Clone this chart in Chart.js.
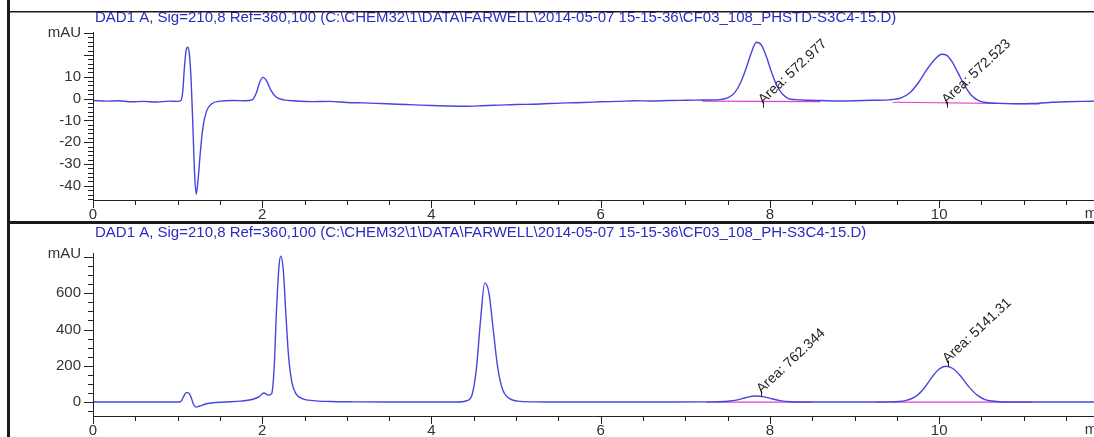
<!DOCTYPE html>
<html>
<head>
<meta charset="utf-8">
<script src="https://cdn.jsdelivr.net/npm/chart.js@4.4.1/dist/chart.umd.min.js"></script>
<style>
  html, body { margin: 0; padding: 0; background: #fff; }
  #wrap { position: relative; width: 1094px; height: 437px; overflow: hidden; }
  #topChart { position: absolute; left: 0; top: 0; }
  #bottomChart { position: absolute; left: 0; top: 221px; }
</style>
</head>
<body>
<div id="wrap">
  <canvas id="topChart" width="1094" height="221"></canvas>
  <canvas id="bottomChart" width="1094" height="216"></canvas>
</div>
<script>
// Standard injection (top) and sample (bottom), DAD1 A signal
const topTitle = 'DAD1 A, Sig=210,8 Ref=360,100 (C:\\CHEM32\\1\\DATA\\FARWELL\\2014-05-07 15-15-36\\CF03_108_PHSTD-S3C4-15.D)';
const bottomTitle = 'DAD1 A, Sig=210,8 Ref=360,100 (C:\\CHEM32\\1\\DATA\\FARWELL\\2014-05-07 15-15-36\\CF03_108_PH-S3C4-15.D)';

const xTickLabels = [0, 2, 4, 6, 8, 10];

// top trace: retention time (min) / absorbance (mAU)
const topTimes = [0, 0.15, 0.3, 0.45, 0.6, 0.75, 0.9, 1.0, 1.04, 1.06, 1.08, 1.1, 1.12, 1.14, 1.16, 1.18, 1.2, 1.22, 1.24, 1.27, 1.3, 1.34, 1.4, 1.5, 1.65, 1.8, 1.88, 1.93, 1.97, 2.01, 2.05, 2.1, 2.16, 2.25, 2.4, 2.6, 2.8, 3.0, 3.2, 3.4, 3.6, 3.8, 4.0, 4.2, 4.4, 4.6, 4.8, 5.0, 5.2, 5.4, 5.6, 5.8, 6.0, 6.2, 6.4, 6.6, 6.8, 7.0, 7.2, 7.4, 7.5, 7.58, 7.65, 7.72, 7.78, 7.84, 7.9, 7.96, 8.02, 8.08, 8.15, 8.22, 8.3, 8.45, 8.6, 8.8, 9.0, 9.2, 9.4, 9.55, 9.65, 9.75, 9.85, 9.95, 10.03, 10.09, 10.15, 10.22, 10.3, 10.38, 10.46, 10.55, 10.7, 10.9, 11.1, 11.3, 11.5, 11.7, 11.83];
const topValues = [-0.9, -1.2, -1.0, -1.5, -1.3, -1.6, -1.2, -1.3, -0.8, 3, 14, 22, 23.5, 20, 8, -12, -34, -43.8, -38, -24, -13, -6, -2.5, -1.2, -0.9, -1.0, -0.6, 2.5, 7.5, 9.7, 8.2, 4, 0.8, -0.6, -1.1, -1.4, -1.3, -1.8, -2.0, -2.3, -2.6, -2.9, -3.2, -3.4, -3.5, -3.3, -3.0, -2.7, -2.6, -2.3, -2.0, -1.8, -1.5, -1.3, -1.0, -1.1, -0.9, -0.8, -0.7, -0.5, 0.3, 2.5, 7, 14, 21, 25.8, 24.5, 19, 12, 6, 2, 0, -0.5, -0.8, -0.9, -1.1, -1.0, -0.8, -0.6, 0.3, 2.5, 7, 13, 18, 20.3, 19.8, 17, 12, 6, 1.5, -0.8, -1.8, -2.2, -2.4, -2.3, -1.8, -1.5, -1.3, -1.2];

// bottom trace
const bottomTimes = [0, 0.5, 1.0, 1.04, 1.07, 1.1, 1.13, 1.16, 1.19, 1.22, 1.26, 1.32, 1.4, 1.55, 1.75, 1.88, 1.96, 2.02, 2.07, 2.11, 2.14, 2.17, 2.2, 2.22, 2.25, 2.28, 2.31, 2.35, 2.4, 2.48, 2.6, 2.8, 3.1, 3.5, 4.0, 4.3, 4.42, 4.48, 4.53, 4.58, 4.63, 4.68, 4.73, 4.78, 4.84, 4.92, 5.02, 5.2, 5.6, 6.2, 6.8, 7.3, 7.5, 7.62, 7.72, 7.82, 7.92, 8.02, 8.12, 8.25, 8.5, 9.0, 9.4, 9.6, 9.72, 9.82, 9.92, 10.0, 10.08, 10.16, 10.25, 10.35, 10.45, 10.55, 10.68, 10.85, 11.2, 11.83];
const bottomValues = [0, 0, 0, 4, 30, 52, 50, 25, -15, -28, -22, -12, -5, 0, 5, 14, 28, 50, 38, 45, 180, 520, 760, 805, 720, 480, 260, 110, 45, 18, 8, 3, 1, 0, 0, 0, 8, 40, 180, 450, 657, 600, 400, 200, 70, 20, 5, 1, 0, 0, 0, 1, 4, 12, 25, 33, 30, 18, 8, 2, 0, 0, 1, 8, 30, 75, 140, 182, 197, 185, 145, 85, 38, 12, 3, 0, 0, 0];

// integration baselines (pink), [start, end] per peak
const topBaseTimes = [[7.2, 8.6], [9.45, 11.19]];
const topBaseValues = [[-1.2, -1.4], [-1.7, -2.4]];
const bottomBaseTimes = [[7.25, 8.5], [9.26, 11.1]];
const bottomBaseValues = [[0, 0], [0, 0]];

// peak area labels, anchored at (time, mAU)
const topAreaTimes = [7.92, 10.09];
const topAreaValues = [-2.8, -2.8];
const topAreaLabels = ['Area: 572.977', 'Area: 572.523'];
const bottomAreaTimes = [7.9, 10.1];
const bottomAreaValues = [45, 212];
const bottomAreaLabels = ['Area: 762.344', 'Area: 5141.31'];

const topYTicks = [10, 0, -10, -20, -30, -40];
const bottomYTicks = [600, 400, 200, 0];

const TRACE = '#4646dc';
const BASE = '#e040d0';
const TITLE = '#2b2bc4';
const INK = '#333';
const FONT = 'Liberation Sans, Arial, sans-serif';

function toPoints(xs, ys) {
  return xs.map((x, i) => ({ x: x, y: ys[i] }));
}

const axisPlugin = {
  id: 'chemAxes',
  afterDraw(chart) {
    const o = chart.options.plugins.chemAxes;
    const ctx = chart.ctx;
    const xs = chart.scales.x;
    const ys = chart.scales.y;
    const area = chart.chartArea;
    ctx.save();
    ctx.strokeStyle = '#222';
    ctx.lineWidth = 1;

    // axis lines
    ctx.beginPath();
    ctx.moveTo(area.left + 0.5, area.top);
    ctx.lineTo(area.left + 0.5, area.bottom);
    ctx.moveTo(area.left, area.bottom + 0.5);
    ctx.lineTo(area.right, area.bottom + 0.5);
    ctx.stroke();

    // y ticks: minor every step, long at labelled values
    ctx.beginPath();
    for (let v = Math.ceil(ys.min / o.yMinor) * o.yMinor; v <= ys.max + 1e-9; v += o.yMinor) {
      const py = Math.round(ys.getPixelForValue(v)) + 0.5;
      const major = Math.abs(v / o.yMajor - Math.round(v / o.yMajor)) < 1e-6;
      ctx.moveTo(area.left, py);
      ctx.lineTo(area.left - (major ? 9 : 5), py);
    }
    // x ticks every half minute
    for (let t = 0; t <= xs.max + 1e-9; t += 0.5) {
      const px = Math.round(xs.getPixelForValue(t)) + 0.5;
      const major = Math.abs(t / 2 - Math.round(t / 2)) < 1e-6;
      ctx.moveTo(px, area.bottom);
      ctx.lineTo(px, area.bottom + (major ? 8 : 5));
    }
    ctx.stroke();

    ctx.fillStyle = INK;
    ctx.font = '15px ' + FONT;
    ctx.textAlign = 'right';
    ctx.textBaseline = 'middle';
    ctx.fillText('mAU', area.left - 12, area.top + 1);
    ctx.textAlign = 'left';
    ctx.textBaseline = 'top';
    ctx.fillText('min', xs.getPixelForValue(11.72), area.bottom + 6);

    // title
    ctx.fillStyle = TITLE;
    ctx.font = '15px ' + FONT;
    ctx.textAlign = 'left';
    ctx.textBaseline = 'middle';
    ctx.fillText(o.title, 95, o.titleY);

    // area labels, rotated
    ctx.fillStyle = '#222';
    ctx.font = '14px ' + FONT;
    ctx.textBaseline = 'alphabetic';
    o.areaTimes.forEach((t, i) => {
      const px = xs.getPixelForValue(t);
      const py = ys.getPixelForValue(o.areaValues[i]);
      ctx.save();
      ctx.translate(px, py);
      ctx.rotate(-43 * Math.PI / 180);
      ctx.fillText(o.areaLabels[i], 0, 0);
      ctx.restore();
      ctx.beginPath();
      ctx.moveTo(Math.round(px) + 0.5, py - 3);
      ctx.lineTo(Math.round(px) + 0.5, py + 3);
      ctx.stroke();
    });

    // frame
    ctx.fillStyle = '#1a1a1a';
    ctx.fillRect(7, 0, 3, chart.height);
    if (o.frameTop) ctx.fillRect(7, 11, chart.width, 1.5);
    else ctx.fillRect(7, 0, chart.width, 3);
    ctx.restore();
  }
};

function makeChart(id, cfg) {
  const datasets = [{
    data: toPoints(cfg.times, cfg.values),
    borderColor: TRACE,
    borderWidth: 1.4,
    pointRadius: 0,
    cubicInterpolationMode: 'monotone',
    order: 1
  }];
  cfg.baseTimes.forEach((b, i) => {
    datasets.push({
      data: toPoints(b, cfg.baseValues[i]),
      borderColor: BASE,
      borderWidth: 1.2,
      pointRadius: 0,
      order: 2
    });
  });
  return new Chart(document.getElementById(id), {
    type: 'line',
    data: { datasets: datasets },
    options: {
      responsive: false,
      animation: false,
      events: [],
      layout: { padding: { top: cfg.padTop, left: 0, right: 0, bottom: 0 } },
      plugins: {
        legend: { display: false },
        tooltip: { enabled: false },
        chemAxes: {
          title: cfg.title, titleY: cfg.titleY, frameTop: cfg.frameTop,
          yMinor: cfg.yMinor, yMajor: cfg.yMajor,
          areaTimes: cfg.areaTimes, areaValues: cfg.areaValues, areaLabels: cfg.areaLabels
        }
      },
      scales: {
        x: {
          type: 'linear', min: 0, max: 11.83,
          grid: { display: false, drawTicks: false }, border: { display: false },
          afterBuildTicks: s => { s.ticks = xTickLabels.map(v => ({ value: v })); },
          ticks: { color: INK, font: { family: FONT, size: 15 }, padding: 6, maxRotation: 0, autoSkip: false },
          afterFit: s => { s.height = cfg.xHeight; }
        },
        y: {
          min: cfg.yMin, max: cfg.yMax,
          grid: { display: false, drawTicks: false }, border: { display: false },
          afterBuildTicks: s => { s.ticks = cfg.yTicks.map(v => ({ value: v })); },
          ticks: { color: INK, font: { family: FONT, size: 15 }, padding: 12, autoSkip: false },
          afterFit: s => { s.width = 93; }
        }
      }
    },
    plugins: [axisPlugin]
  });
}

makeChart('topChart', {
  times: topTimes, values: topValues,
  baseTimes: topBaseTimes, baseValues: topBaseValues,
  areaTimes: topAreaTimes, areaValues: topAreaValues, areaLabels: topAreaLabels,
  title: topTitle, titleY: 18, frameTop: true,
  yMin: -46.5, yMax: 30.5, yTicks: topYTicks, yMinor: 2, yMajor: 10,
  padTop: 32, xHeight: 21
});

makeChart('bottomChart', {
  times: bottomTimes, values: bottomValues,
  baseTimes: bottomBaseTimes, baseValues: bottomBaseValues,
  areaTimes: bottomAreaTimes, areaValues: bottomAreaValues, areaLabels: bottomAreaLabels,
  title: bottomTitle, titleY: 12, frameTop: false,
  yMin: -77, yMax: 822, yTicks: bottomYTicks, yMinor: 50, yMajor: 200,
  padTop: 32, xHeight: 20
});
</script>
</body>
</html>
